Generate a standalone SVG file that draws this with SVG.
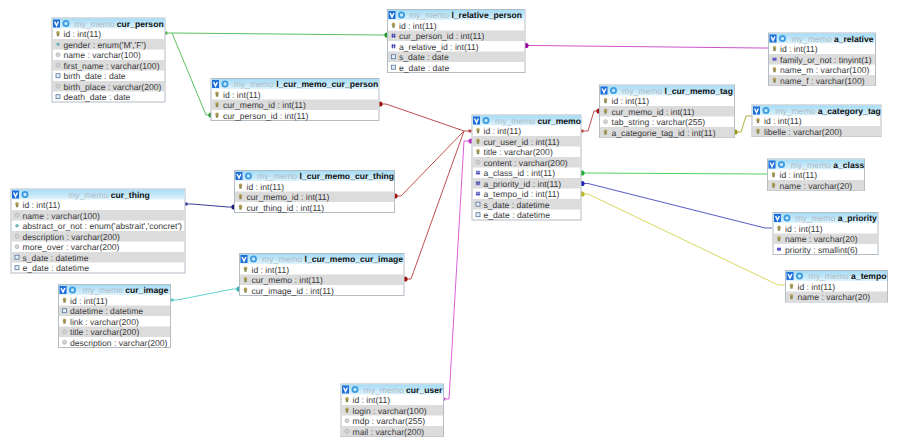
<svg xmlns="http://www.w3.org/2000/svg" width="900" height="445" viewBox="0 0 900 445">
<style>
text{font-family:"Liberation Sans",Arial,sans-serif;text-rendering:geometricPrecision}
.r{font-size:8.6px;fill:#3a3a3a}
.t{font-size:8.6px;fill:#aebbc6;text-anchor:middle}
.t tspan{font-weight:bold;fill:#111}
.b{fill:#fff;stroke:#b4bcc4;stroke-width:1}
.g{fill:#dcdcdc}
.l{fill:none;stroke-width:1}
circle.f{stroke:none}
</style>
<defs>
<linearGradient id="hd" x1="0" y1="0" x2="0" y2="1"><stop offset="0" stop-color="#a5dcf6"/><stop offset="1" stop-color="#dff3fc"/></linearGradient>
<g id="head"><rect x="1" y="1.5" width="7" height="8" fill="#1f6fd8"/><path d="M2.6 3.5L4.5 7.5L6.4 3.5" fill="none" stroke="#fff" stroke-width="1.4"/><circle cx="14" cy="5.5" r="2.6" fill="none" stroke="#3c9be0" stroke-width="1.8"/></g>
<g id="k"><circle cx="0" cy="-1" r="1.8" fill="#b5a35a"/><rect x="-1.2" y="-0.5" width="2.4" height="3" fill="#8f8a50"/></g>
<g id="c"><circle cx="0" cy="0" r="2" fill="#d4d4d4" stroke="#a8a8a8" stroke-width=".6"/></g>
<g id="e"><path d="M0-2L2.2 0L0 2L-2.2 0Z" fill="#6fb3b8"/></g>
<g id="d"><rect x="-2" y="-2" width="4" height="4" fill="#e8eef5" stroke="#5577a0" stroke-width=".8"/></g>
<g id="n"><path d="M-1-2.2V2.2M1-2.2V2.2M-2.2-.8H2.2M-2.2 .8H2.2" stroke="#3a3ab0" stroke-width=".8" fill="none"/></g>
<g id="m"><rect x="-2" y="-1.5" width="4" height="3" fill="#5a5ac8"/></g>
</defs>
<g id="connectors">
<g stroke="#5cc060" fill="#1f9a2a"><path class="l" d="M165 33H172L380 35H387"/><path class="l" d="M172 33L206 115H211"/><rect x="165" y="32" width="2" height="2"/><circle class="f" cx="387" cy="35" r="2.6"/><circle class="f" cx="211" cy="115" r="2.6"/></g>
<g fill="#a000a0"><path class="l" stroke="#cc55cc" d="M525 45.5H532L761 48H768"/><circle class="f" cx="526" cy="45.5" r="2.6"/></g>
<g stroke="#bd5050" fill="#a01010"><path class="l" d="M471 131H464L386 104H379"/><path class="l" d="M464 131L401 196H394"/><path class="l" d="M464 131L411 279H404"/><path class="l" d="M581 131H588L594 111H599"/><rect x="469" y="130" width="2" height="2"/><rect x="581" y="130" width="2" height="2"/><circle class="f" cx="380" cy="104" r="2.6"/><circle class="f" cx="395" cy="196" r="2.6"/><circle class="f" cx="405" cy="279" r="2.6"/><circle class="f" cx="599" cy="111" r="2.6"/></g>
<g stroke="#d860d8" fill="#c030c0"><path class="l" d="M443 399H449L464 141H471"/><rect x="443" y="398" width="2" height="2"/><circle class="f" cx="471" cy="141" r="2.6"/></g>
<g stroke="#55d060" fill="#20b030"><path class="l" d="M581 173H588L760 174H767"/><circle class="f" cx="582" cy="173" r="2.6"/></g>
<g stroke="#5a5ac8" fill="#2020b0"><path class="l" d="M581 183.5H588L765 228H772"/><circle class="f" cx="582" cy="183.5" r="2.6"/></g>
<g stroke="#d8d860" fill="#b8b820"><path class="l" d="M581 194H588L778 285H785"/><circle class="f" cx="582" cy="194" r="2.6"/></g>
<g stroke="#b0b040" fill="#9a9a10"><path class="l" d="M734 132H741L746 116H752"/><circle class="f" cx="735" cy="132" r="2.6"/></g>
<g stroke="#3a3a98" fill="#1a1a80"><path class="l" d="M185 204H192L228 207H234"/><rect x="185" y="203" width="2" height="2"/><circle class="f" cx="234" cy="207" r="2.6"/></g>
<g stroke="#60d0d0" fill="#30b0b0"><path class="l" d="M171 300H177L233 289H239"/><rect x="171" y="299" width="2" height="2"/><circle class="f" cx="239" cy="289" r="2.6"/></g>
</g>
<g id="cur_person" transform="translate(52 18)"><rect class="b" width="113" height="84"/><rect x=".5" y=".5" width="112" height="10" fill="url(#hd)"/><use href="#head"/><text class="t" x="67" y="8.5">my_memo <tspan>cur_person</tspan></text>
<rect class="g" x=".5" y="21" width="112" height="10.5"/><rect class="g" x=".5" y="42" width="112" height="10.5"/><rect class="g" x=".5" y="63" width="112" height="10.5"/>
<use href="#k" x="6" y="15.7"/><text class="r" x="11.5" y="19">id : int(11)</text>
<use href="#e" x="6" y="26.2"/><text class="r" x="11.5" y="29.5">gender : enum('M','F')</text>
<use href="#c" x="6" y="36.7"/><text class="r" x="11.5" y="40">name : varchar(100)</text>
<use href="#c" x="6" y="47.2"/><text class="r" x="11.5" y="50.5">first_name : varchar(100)</text>
<use href="#d" x="6" y="57.7"/><text class="r" x="11.5" y="61">birth_date : date</text>
<use href="#c" x="6" y="68.2"/><text class="r" x="11.5" y="71.5">birth_place : varchar(200)</text>
<use href="#d" x="6" y="78.7"/><text class="r" x="11.5" y="82">death_date : date</text></g>
<g id="l_relative_person" transform="translate(387.5 9.5)"><rect class="b" width="137.5" height="63"/><rect x=".5" y=".5" width="136.5" height="10" fill="url(#hd)"/><use href="#head"/><text class="t" x="78" y="8.5">my_memo <tspan>l_relative_person</tspan></text>
<rect class="g" x=".5" y="21" width="136.5" height="10.5"/><rect class="g" x=".5" y="42" width="136.5" height="10.5"/>
<use href="#k" x="6" y="15.7"/><text class="r" x="11.5" y="19">id : int(11)</text>
<use href="#n" x="6" y="26.2"/><text class="r" x="11.5" y="29.5">cur_person_id : int(11)</text>
<use href="#n" x="6" y="36.7"/><text class="r" x="11.5" y="40">a_relative_id : int(11)</text>
<use href="#d" x="6" y="47.2"/><text class="r" x="11.5" y="50.5">s_date : date</text>
<use href="#d" x="6" y="57.7"/><text class="r" x="11.5" y="61">e_date : date</text></g>
<g id="a_relative" transform="translate(768.5 33)"><rect class="b" width="107" height="52.5"/><rect x=".5" y=".5" width="106" height="10" fill="url(#hd)"/><use href="#head"/><text class="t" x="64" y="8.5">my_memo <tspan>a_relative</tspan></text>
<rect class="g" x=".5" y="21" width="106" height="10.5"/><rect class="g" x=".5" y="42" width="106" height="10.5"/>
<use href="#k" x="6" y="15.7"/><text class="r" x="11.5" y="19">id : int(11)</text>
<use href="#m" x="6" y="26.2"/><text class="r" x="11.5" y="29.5">family_or_not : tinyint(1)</text>
<use href="#k" x="6" y="36.7"/><text class="r" x="11.5" y="40">name_m : varchar(100)</text>
<use href="#k" x="6" y="47.2"/><text class="r" x="11.5" y="50.5">name_f : varchar(100)</text></g>
<g id="l_cur_memo_cur_person" transform="translate(211 78.5)"><rect class="b" width="168" height="42"/><rect x=".5" y=".5" width="167" height="10" fill="url(#hd)"/><use href="#head"/><text class="t" x="95" y="8.5">my_memo <tspan>l_cur_memo_cur_person</tspan></text>
<rect class="g" x=".5" y="21" width="167" height="10.5"/>
<use href="#k" x="6" y="15.7"/><text class="r" x="12" y="19">id : int(11)</text>
<use href="#k" x="6" y="26.2"/><text class="r" x="12" y="29.5">cur_memo_id : int(11)</text>
<use href="#k" x="6" y="36.7"/><text class="r" x="12" y="40">cur_person_id : int(11)</text></g>
<g id="l_cur_memo_tag" transform="translate(599.5 85)"><rect class="b" width="135" height="52.5"/><rect x=".5" y=".5" width="134" height="10" fill="url(#hd)"/><use href="#head"/><text class="t" x="78" y="8.5">my_memo <tspan>l_cur_memo_tag</tspan></text>
<rect class="g" x=".5" y="21" width="134" height="10.5"/><rect class="g" x=".5" y="42" width="134" height="10.5"/>
<use href="#k" x="6" y="15.7"/><text class="r" x="12" y="19">id : int(11)</text>
<use href="#k" x="6" y="26.2"/><text class="r" x="12" y="29.5">cur_memo_id : int(11)</text>
<use href="#c" x="6" y="36.7"/><text class="r" x="12" y="40">tab_string : varchar(255)</text>
<use href="#k" x="6" y="47.2"/><text class="r" x="12" y="50.5">a_categorie_tag_id : int(11)</text></g>
<g id="a_category_tag" transform="translate(752 105)"><rect class="b" width="129" height="31.5"/><rect x=".5" y=".5" width="128" height="10" fill="url(#hd)"/><use href="#head"/><text class="t" x="76" y="8.5">my_memo <tspan>a_category_tag</tspan></text>
<rect class="g" x=".5" y="21" width="128" height="10.5"/>
<use href="#k" x="6" y="15.7"/><text class="r" x="12" y="19">id : int(11)</text>
<use href="#k" x="6" y="26.2"/><text class="r" x="12" y="29.5">libelle : varchar(200)</text></g>
<g id="cur_memo" transform="translate(472 115)"><rect class="b" width="109" height="105"/><rect x=".5" y=".5" width="108" height="10" fill="url(#hd)"/><use href="#head"/><text class="t" x="66" y="8.5">my_memo <tspan>cur_memo</tspan></text>
<rect class="g" x=".5" y="21" width="108" height="10.5"/><rect class="g" x=".5" y="42" width="108" height="10.5"/><rect class="g" x=".5" y="63" width="108" height="10.5"/><rect class="g" x=".5" y="84" width="108" height="10.5"/>
<use href="#k" x="6" y="15.7"/><text class="r" x="11.5" y="19">id : int(11)</text>
<use href="#k" x="6" y="26.2"/><text class="r" x="11.5" y="29.5">cur_user_id : int(11)</text>
<use href="#k" x="6" y="36.7"/><text class="r" x="11.5" y="40">title : varchar(200)</text>
<use href="#c" x="6" y="47.2"/><text class="r" x="11.5" y="50.5">content : varchar(200)</text>
<use href="#n" x="6" y="57.7"/><text class="r" x="11.5" y="61">a_class_id : int(11)</text>
<use href="#n" x="6" y="68.2"/><text class="r" x="11.5" y="71.5">a_priority_id : int(11)</text>
<use href="#n" x="6" y="78.7"/><text class="r" x="11.5" y="82">a_tempo_id : int(11)</text>
<use href="#d" x="6" y="89.2"/><text class="r" x="11.5" y="92.5">s_date : datetime</text>
<use href="#d" x="6" y="99.7"/><text class="r" x="11.5" y="103">e_date : datetime</text></g>
<g id="a_class" transform="translate(767.5 159)"><rect class="b" width="97" height="31.5"/><rect x=".5" y=".5" width="96" height="10" fill="url(#hd)"/><use href="#head"/><text class="t" x="60" y="8.5">my_memo <tspan>a_class</tspan></text>
<rect class="g" x=".5" y="21" width="96" height="10.5"/>
<use href="#k" x="6" y="15.7"/><text class="r" x="12" y="19">id : int(11)</text>
<use href="#k" x="6" y="26.2"/><text class="r" x="12" y="29.5">name : varchar(20)</text></g>
<g id="cur_thing" transform="translate(11 189)"><rect class="b" width="174" height="84"/><rect x=".5" y=".5" width="173" height="10" fill="url(#hd)"/><use href="#head"/><text class="t" x="98" y="8.5">my_memo <tspan>cur_thing</tspan></text>
<rect class="g" x=".5" y="21" width="173" height="10.5"/><rect class="g" x=".5" y="42" width="173" height="10.5"/><rect class="g" x=".5" y="63" width="173" height="10.5"/>
<use href="#k" x="6" y="15.7"/><text class="r" x="11.5" y="19">id : int(11)</text>
<use href="#c" x="6" y="26.2"/><text class="r" x="11.5" y="29.5">name : varchar(100)</text>
<use href="#e" x="6" y="36.7"/><text class="r" x="11.5" y="40">abstract_or_not : enum('abstrait','concret')</text>
<use href="#c" x="6" y="47.2"/><text class="r" x="11.5" y="50.5">description : varchar(200)</text>
<use href="#c" x="6" y="57.7"/><text class="r" x="11.5" y="61">more_over : varchar(200)</text>
<use href="#d" x="6" y="68.2"/><text class="r" x="11.5" y="71.5">s_date : datetime</text>
<use href="#d" x="6" y="78.7"/><text class="r" x="11.5" y="82">e_date : datetime</text></g>
<g id="l_cur_memo_cur_thing" transform="translate(234.5 170.5)"><rect class="b" width="160" height="42"/><rect x=".5" y=".5" width="159" height="10" fill="url(#hd)"/><use href="#head"/><text class="t" x="91" y="8.5">my_memo <tspan>l_cur_memo_cur_thing</tspan></text>
<rect class="g" x=".5" y="21" width="159" height="10.5"/>
<use href="#k" x="6" y="15.7"/><text class="r" x="12" y="19">id : int(11)</text>
<use href="#k" x="6" y="26.2"/><text class="r" x="12" y="29.5">cur_memo_id : int(11)</text>
<use href="#k" x="6" y="36.7"/><text class="r" x="12" y="40">cur_thing_id : int(11)</text></g>
<g id="a_priority" transform="translate(773 212.5)"><rect class="b" width="105" height="42"/><rect x=".5" y=".5" width="104" height="10" fill="url(#hd)"/><use href="#head"/><text class="t" x="63" y="8.5">my_memo <tspan>a_priority</tspan></text>
<rect class="g" x=".5" y="21" width="104" height="10.5"/>
<use href="#k" x="6" y="15.7"/><text class="r" x="12" y="19">id : int(11)</text>
<use href="#k" x="6" y="26.2"/><text class="r" x="12" y="29.5">name : varchar(20)</text>
<use href="#m" x="6" y="36.7"/><text class="r" x="12" y="40">priority : smallint(6)</text></g>
<g id="l_cur_memo_cur_image" transform="translate(239.5 253.5)"><rect class="b" width="164.5" height="42"/><rect x=".5" y=".5" width="163.5" height="10" fill="url(#hd)"/><use href="#head"/><text class="t" x="93" y="8.5">my_memo <tspan>l_cur_memo_cur_image</tspan></text>
<rect class="g" x=".5" y="21" width="163.5" height="10.5"/>
<use href="#k" x="6" y="15.7"/><text class="r" x="12" y="19">id : int(11)</text>
<use href="#k" x="6" y="26.2"/><text class="r" x="12" y="29.5">cur_memo : int(11)</text>
<use href="#k" x="6" y="36.7"/><text class="r" x="12" y="40">cur_image_id : int(11)</text></g>
<g id="a_tempo" transform="translate(785.5 270.5)"><rect class="b" width="102" height="31.5"/><rect x=".5" y=".5" width="101" height="10" fill="url(#hd)"/><use href="#head"/><text class="t" x="62" y="8.5">my_memo <tspan>a_tempo</tspan></text>
<rect class="g" x=".5" y="21" width="101" height="10.5"/>
<use href="#k" x="6" y="15.7"/><text class="r" x="12" y="19">id : int(11)</text>
<use href="#k" x="6" y="26.2"/><text class="r" x="12" y="29.5">name : varchar(20)</text></g>
<g id="cur_image" transform="translate(58.5 284.5)"><rect class="b" width="112" height="63"/><rect x=".5" y=".5" width="111" height="10" fill="url(#hd)"/><use href="#head"/><text class="t" x="67" y="8.5">my_memo <tspan>cur_image</tspan></text>
<rect class="g" x=".5" y="21" width="111" height="10.5"/><rect class="g" x=".5" y="42" width="111" height="10.5"/>
<use href="#k" x="6" y="15.7"/><text class="r" x="11.5" y="19">id : int(11)</text>
<use href="#d" x="6" y="26.2"/><text class="r" x="11.5" y="29.5">datetime : datetime</text>
<use href="#k" x="6" y="36.7"/><text class="r" x="11.5" y="40">link : varchar(200)</text>
<use href="#c" x="6" y="47.2"/><text class="r" x="11.5" y="50.5">title : varchar(200)</text>
<use href="#c" x="6" y="57.7"/><text class="r" x="11.5" y="61">description : varchar(200)</text></g>
<g id="cur_user" transform="translate(341 384)"><rect class="b" width="102.5" height="52.5"/><rect x=".5" y=".5" width="101.5" height="10" fill="url(#hd)"/><use href="#head"/><text class="t" x="62" y="8.5">my_memo <tspan>cur_user</tspan></text>
<rect class="g" x=".5" y="21" width="101.5" height="10.5"/><rect class="g" x=".5" y="42" width="101.5" height="10.5"/>
<use href="#k" x="6" y="15.7"/><text class="r" x="11.5" y="19">id : int(11)</text>
<use href="#k" x="6" y="26.2"/><text class="r" x="11.5" y="29.5">login : varchar(100)</text>
<use href="#c" x="6" y="36.7"/><text class="r" x="11.5" y="40">mdp : varchar(255)</text>
<use href="#c" x="6" y="47.2"/><text class="r" x="11.5" y="50.5">mail : varchar(200)</text></g>
</svg>
